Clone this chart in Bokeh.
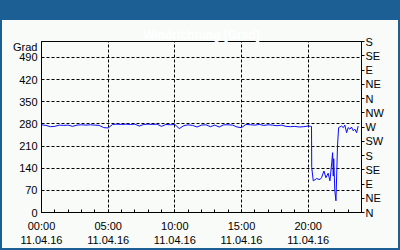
from bokeh.plotting import figure
from bokeh.models import Range1d, LinearAxis, FixedTicker, Title
from bokeh.embed import file_html
from bokeh.resources import INLINE

# ---- data ----
times = ["00:00", "00:20", "00:40", "01:00", "01:20", "01:40", "02:00", "02:20", "02:40",
         "03:00", "03:20", "03:40", "04:00", "04:20", "04:40", "05:00", "05:20", "05:40",
         "06:00", "06:20", "06:40", "07:00", "07:20", "07:40", "08:00", "08:20", "08:40",
         "09:00", "09:20", "09:40", "10:00", "10:20", "10:40", "11:00", "11:20", "11:40",
         "12:00", "12:20", "12:40", "13:00", "13:20", "13:40", "14:00", "14:20", "14:40",
         "15:00", "15:20", "15:40", "16:00", "16:20", "16:40", "17:00", "17:20", "17:40",
         "18:00", "18:20", "18:40", "19:00", "19:20", "19:40", "20:00", "20:10", "20:15",
         "20:16", "20:23", "20:38", "20:53", "21:00", "21:11", "21:20", "21:30", "21:38",
         "21:46", "21:50", "21:53", "21:55", "22:00", "22:05", "22:12", "22:17", "22:30",
         "22:38", "22:45", "22:53", "23:00", "23:08", "23:15", "23:23", "23:30", "23:38",
         "23:45"]
direction = [277, 275, 271, 272, 276, 275, 276, 272, 276,
             277, 276, 277, 276, 275, 268, 267, 278, 279,
             278, 279, 278, 279, 273, 278, 279, 278, 279,
             272, 278, 277, 278, 265, 274, 277, 275, 270,
             276, 277, 271, 276, 270, 277, 277, 276, 270,
             268, 278, 277, 276, 278, 275, 277, 276, 274,
             276, 272, 271, 272, 270, 271, 273, 272, 272,
             142, 100, 107, 104, 110, 131, 110, 124, 100,
             157, 189, 115, 170, 68, 37, 210, 268, 273,
             268, 276, 252, 268, 263, 270, 258, 263, 252,
             273]
y_ticks = [0, 70, 140, 210, 280, 350, 420, 490]
unit_tick = 524
unit_text = "Grad"
x_ticks = [0, 5, 10, 15, 20]
x_tick_labels = ["00:00\n11.04.16", "05:00\n11.04.16", "10:00\n11.04.16",
                 "15:00\n11.04.16", "20:00\n11.04.16"]
compass_ticks = [0, 45, 90, 135, 180, 225, 270, 315, 360, 405, 450, 495, 540]
compass_labels = ["N", "NE", "E", "SE", "S", "SW", "W", "NW", "N", "NE", "E", "SE", "S"]
title_text = "Windrichtung [Grad]"

hours = [int(t[:2]) + int(t[3:]) / 60 for t in times]

BLUE = "#1c5f94"
LIGHT = "#f8fbf8"
FONT = "Liberation Sans"

p = figure(width=400, height=250, x_range=Range1d(0, 24), y_range=Range1d(0, 540),
           output_backend="svg", toolbar_location=None,
           min_border_left=41, min_border_right=39, min_border_top=41, min_border_bottom=38)
p.border_fill_alpha = 0
p.background_fill_color = LIGHT
p.outline_line_color = "black"
p.styles = {
    "background": "linear-gradient(to bottom, %s 0px, %s 20px, %s 20px, %s 100%%)"
                  % (BLUE, BLUE, LIGHT, LIGHT),
    "outline": "2px solid " + BLUE,
    "outline-offset": "-2px",
}

# title stack: spacer next to the frame, real title outermost (top of the bar)
p.title = None
p.add_layout(Title(text=" ", text_font=FONT, text_font_size="12px",
                   text_color=LIGHT, text_alpha=0, standoff=6), "above")
p.add_layout(Title(text=title_text, align="center", vertical_align="bottom",
                   text_color="white", text_font=FONT, text_font_size="12px",
                   text_font_style="bold", standoff=0, offset=8), "above")

# grids
p.xgrid.ticker = FixedTicker(ticks=x_ticks[1:])
p.ygrid.ticker = FixedTicker(ticks=y_ticks[1:])
for g in (p.xgrid, p.ygrid):
    g.grid_line_color = "black"
    g.grid_line_dash = "3 2"
    g.grid_line_width = 1

# bottom axis
xa = p.xaxis[0]
xa.ticker = FixedTicker(ticks=x_ticks, minor_ticks=list(range(25)))
xa.major_label_overrides = {t: l for t, l in zip(x_ticks, x_tick_labels)}
xa.major_tick_in = 0
xa.major_tick_out = 0
xa.minor_tick_in = 3
xa.minor_tick_out = 0
xa.major_label_standoff = 7

# left axis
ya = p.yaxis[0]
ya.ticker = FixedTicker(ticks=y_ticks + [unit_tick])
ya.major_label_overrides = {unit_tick: unit_text}
ya.major_tick_in = 0
ya.major_tick_out = 0
ya.minor_tick_in = 0
ya.minor_tick_out = 0
ya.major_label_standoff = 4

# right axis
p.extra_y_ranges = {"dir": Range1d(0, 540)}
ra = LinearAxis(y_range_name="dir", ticker=FixedTicker(ticks=compass_ticks))
ra.major_label_overrides = {t: l for t, l in zip(compass_ticks, compass_labels)}
ra.major_tick_in = 0
ra.major_tick_out = 3
ra.minor_tick_in = 0
ra.minor_tick_out = 0
ra.major_label_standoff = 1
p.add_layout(ra, "right")

for ax in (xa, ya, ra):
    ax.axis_line_color = "black"
    ax.major_tick_line_color = "black"
    ax.minor_tick_line_color = "black"
    ax.major_label_text_font = FONT
    ax.major_label_text_font_size = "11px"
    ax.major_label_text_color = "black"

p.line(hours, direction, line_color="#0a0aff", line_width=1)

open("out.html", "w").write(file_html(p, INLINE))
